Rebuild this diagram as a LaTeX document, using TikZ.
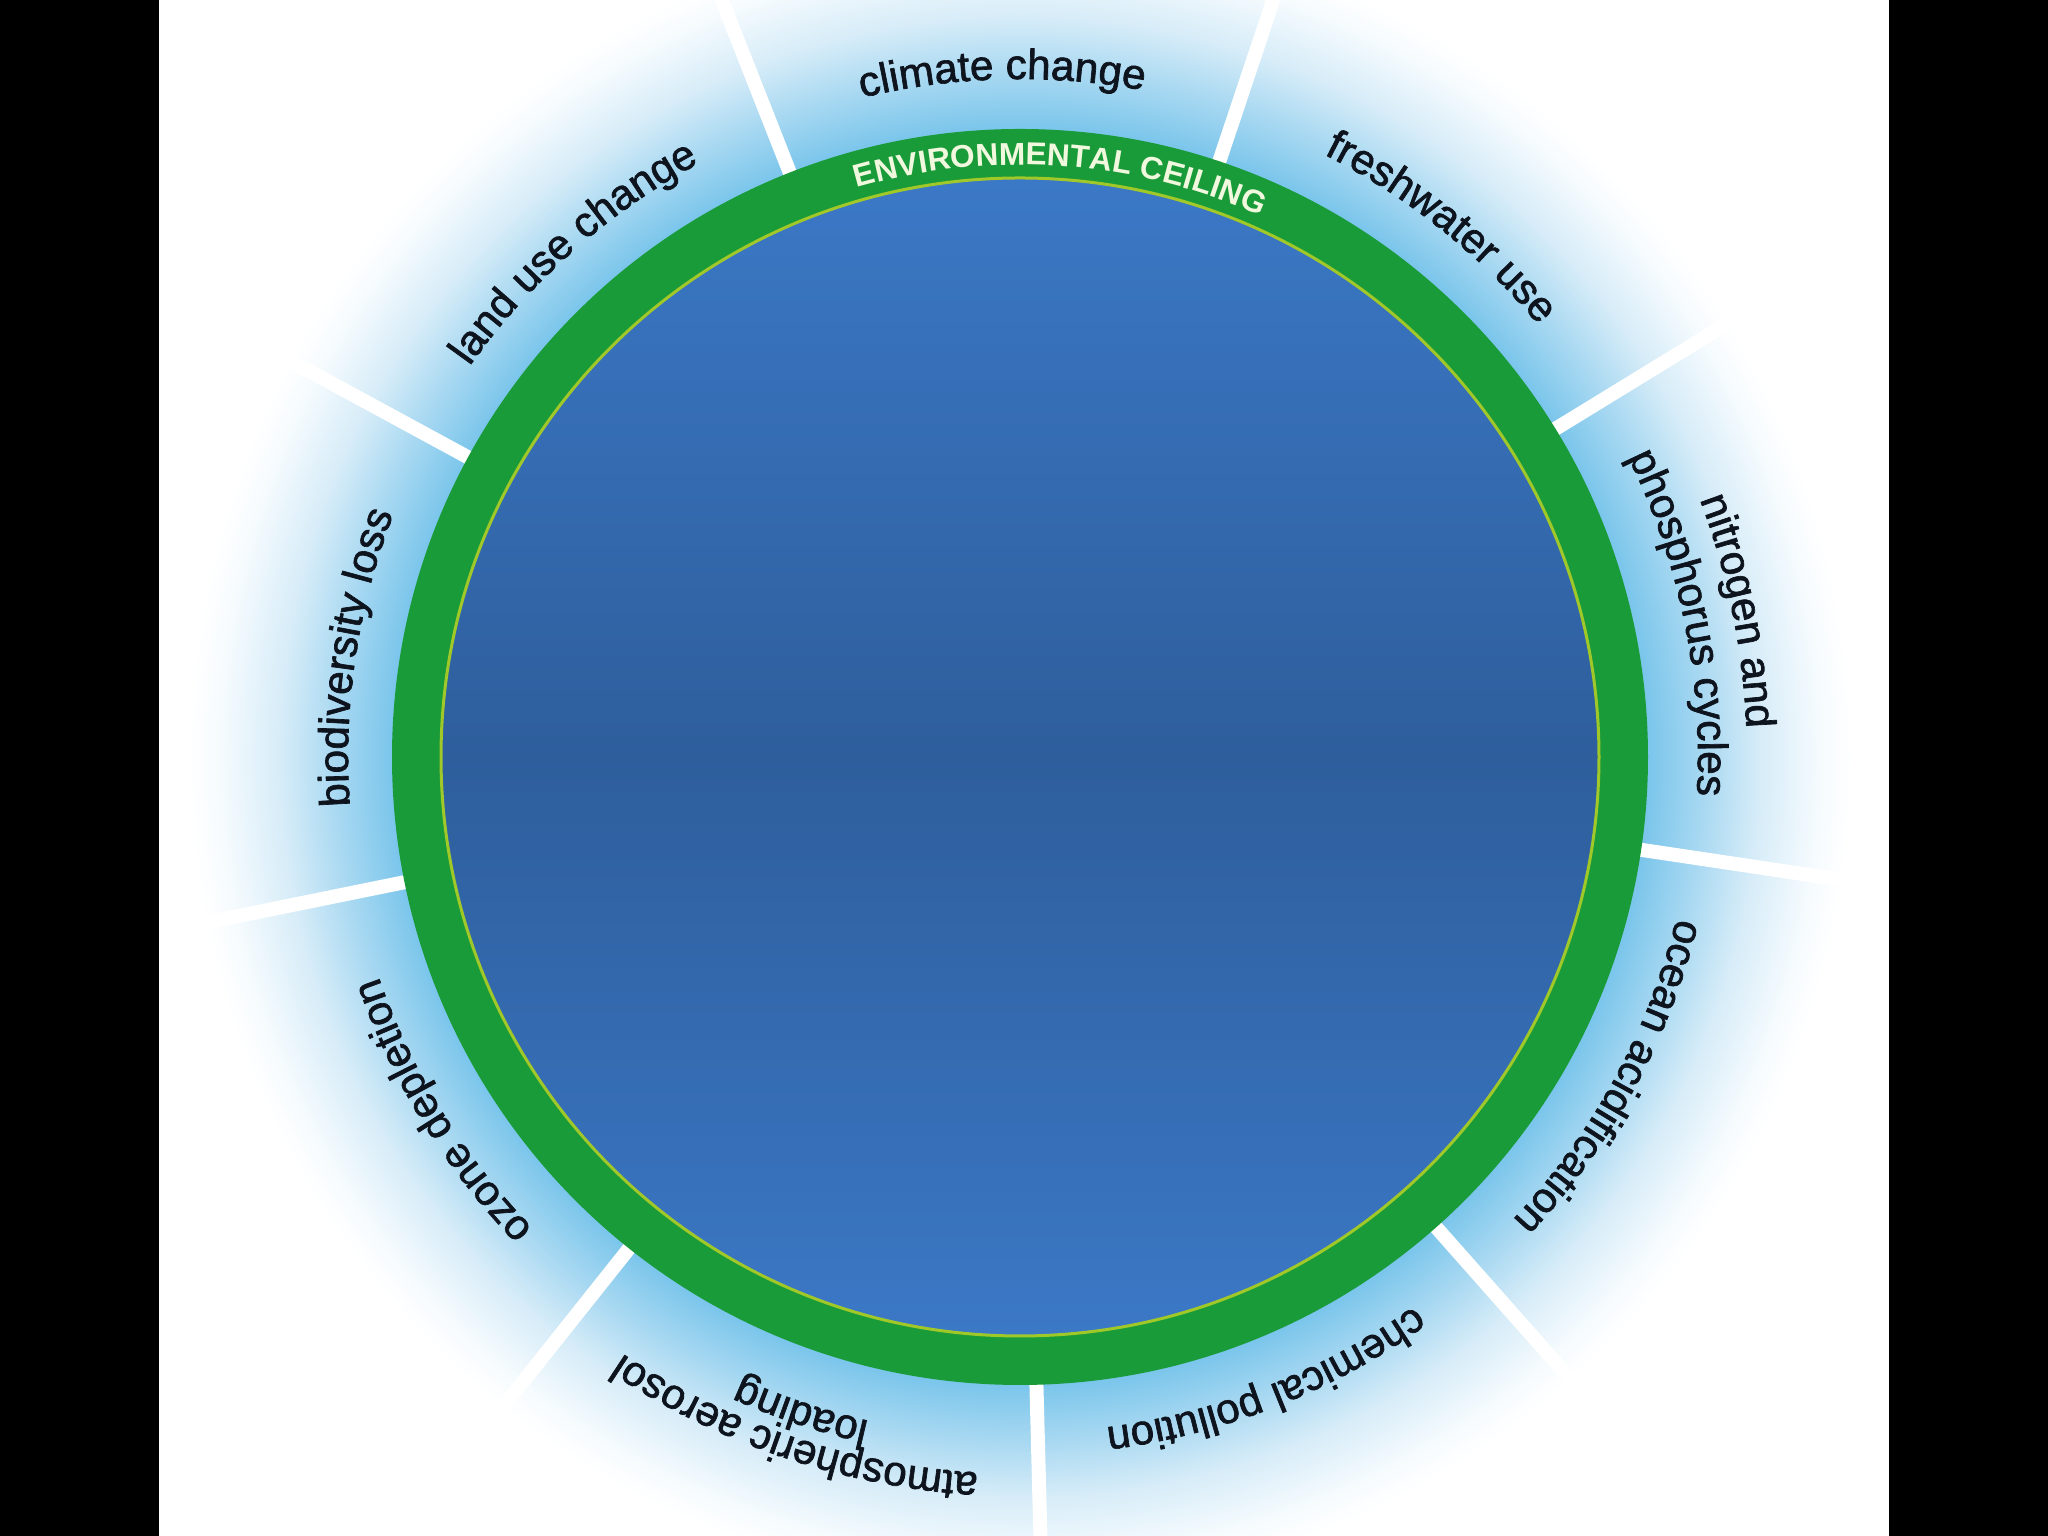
\documentclass[tikz,border=0pt]{standalone}
\usepackage{fontspec}
\setmainfont{Liberation Sans}
\newfontfamily\labfam[FakeBold=1.6]{Liberation Sans}
\usetikzlibrary{decorations.text}
\definecolor{ringgreen}{RGB}{26,155,57}
\definecolor{ringline}{RGB}{160,200,40}
\definecolor{bluetop}{RGB}{59,120,198}
\definecolor{bluemid}{RGB}{46,94,156}
\definecolor{haloa}{RGB}{122,197,235}
\definecolor{halob}{RGB}{165,215,241}
\definecolor{haloc}{RGB}{214,236,248}
\definecolor{halod}{RGB}{246,251,254}
\definecolor{labelink}{RGB}{14,20,30}
\definecolor{ceilink}{RGB}{240,248,222}
% radius 14cm <-> 25bp
\pgfdeclareradialshading{halo}{\pgfpoint{0bp}{0bp}}{color(0bp)=(haloa); color(11.2bp)=(haloa); color(12.15bp)=(halob); color(13.2bp)=(haloc); color(14.3bp)=(halod); color(14.85bp)=(white); color(50bp)=(white)}
\newcommand\labfont{\labfam\color{labelink}\fontsize{12}{14}\selectfont}
\newcommand\ceilfont{\color{ceilink}\fontsize{9}{11}\selectfont\bfseries}
\newcommand\arclab[3]{\path[decorate, decoration={text along path, text align=center, text={|\labfont|#3}}] (#1+20:#2) arc[start angle=#1+20, end angle=#1-20, radius=#2];}
\tikzset{
  divider/.style={white, line width=0.14cm},
  ringfill/.style={fill=ringgreen},
  discfill/.style={top color=bluetop, bottom color=bluetop, middle color=bluemid},
  bar/.style={fill=black}
}
\begin{document}
\begin{tikzpicture}
\useasboundingbox (0,0) rectangle (20.48,15.36);
\clip (0,0) rectangle (20.48,15.36);
\fill[white] (0,0) rectangle (20.48,15.36);
\begin{scope}[shift={(10.20,7.79)}]
  \coordinate (C) at (0,0);
  \fill[shading=halo] (C) circle[radius=14];
  \foreach \a in {31.5,71.5,111.5,151.5,191.5,231.5,271.5,311.5,351.5}
    \draw[divider] (\a:6.2) -- (\a:9.2);
  \fill[ringfill] (C) circle[radius=6.28];
  \shade[discfill] (C) circle[radius=5.79];
  \draw[ringline, line width=0.03cm] (C) circle[radius=5.79];
  % ceiling label
  \path[decorate, decoration={text along path, text align=center, text={|\ceilfont|ENVIRONMENTAL CEILING}}] (111:5.92) arc[start angle=111, end angle=61, radius=5.92];
  % boundary labels
  \arclab{91.5}{6.78}{climate change}
  \arclab{51.5}{6.75}{freshwater use}
  \arclab{11.5}{7.27}{nitrogen and}
  \arclab{11.5}{6.78}{phosphorus cycles}
  \arclab{-28.5}{6.76}{ocean acidification}
  \arclab{-68.5}{6.76}{chemical pollution}
  \arclab{-108.5}{7.17}{atmospheric aerosol}
  \arclab{-108.5}{6.81}{loading}
  \arclab{-148.5}{6.78}{ozone depletion}
  \arclab{171.5}{6.72}{biodiversity loss}
  \arclab{131.5}{6.75}{land use change}
\end{scope}
\fill[bar] (0,0) rectangle (1.59,15.36);
\fill[bar] (18.89,0) rectangle (20.48,15.36);
\end{tikzpicture}
\end{document}
